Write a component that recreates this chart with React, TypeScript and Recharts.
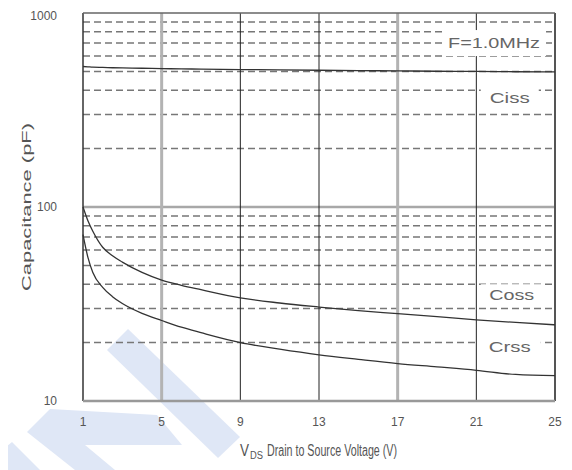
import React from 'react';
import { LineChart, Line, XAxis, YAxis, ReferenceLine, ReferenceDot } from 'recharts';

// V_DS sample points (V)
const vds = [1, 1.25, 1.5, 2, 2.5, 3, 4, 5, 6, 7, 9, 11, 13, 15, 17, 19, 21, 23, 25];
// capacitances (pF)
const ciss = [530, 528, 526, 524, 522, 521, 519, 517, 515, 514, 511, 509, 507, 505, 503, 501, 500, 498, 497];
const coss = [100, 85, 75, 62, 56, 52, 46, 42, 39.5, 37.5, 34, 32, 30.5, 29.2, 28.2, 27.2, 26.2, 25.4, 24.7];
const crss = [72, 55, 46, 38.5, 34.5, 31.8, 28.3, 26, 24, 22.5, 20, 18.5, 17.3, 16.4, 15.6, 15, 14.4, 13.7, 13.5];

const xTicks = [1, 5, 9, 13, 17, 21, 25];
const yTicks = [10, 100, 1000];
const dashedLevels = [20, 30, 40, 50, 60, 70, 80, 90, 200, 300, 400, 500, 600, 700, 800, 900];
const thickVerticals = [5, 17];
const thinVerticals = [9, 13, 21];

const notes = [
  { x: 21.9, y: 700, text: 'F=1.0MHz', len: 92, w: 104, h: 26 },
  { x: 22.7, y: 366, text: 'Ciss', len: 40, w: 58, h: 22 },
  { x: 22.8, y: 35.3, text: 'Coss', len: 45, w: 62, h: 21 },
  { x: 22.7, y: 18.9, text: 'Crss', len: 42, w: 62, h: 22 },
];

const data = vds.map((v, i) => ({ vds: v, ciss: ciss[i], coss: coss[i], crss: crss[i] }));

const font = '"Liberation Sans", Arial, sans-serif';
const textColor = '#555';

const NoteShape = (text: string, len: number, w: number, h: number) => (props: any) => {
  const { cx, cy } = props;
  return (
    <g>
      <rect x={cx - w / 2} y={cy - h / 2} width={w} height={h} fill="#fff" />
      <text
        x={cx - len / 2}
        y={cy}
        dominantBaseline="central"
        fontSize={14}
        textLength={len}
        lengthAdjust="spacingAndGlyphs"
        fill="#666"
        fontFamily={font}
      >
        {text}
      </text>
    </g>
  );
};

const XLabel = (props: any) => {
  const { viewBox } = props;
  const x0 = viewBox.x + viewBox.width / 2 - 79;
  const y = viewBox.y + 55;
  return (
    <g fill={textColor} fontFamily={font}>
      <text x={x0} y={y} fontSize={16} textLength={9} lengthAdjust="spacingAndGlyphs">V</text>
      <text x={x0 + 10} y={y + 3} fontSize={10} textLength={13} lengthAdjust="spacingAndGlyphs">DS</text>
      <text x={x0 + 27} y={y} fontSize={16} textLength={130} lengthAdjust="spacingAndGlyphs">
        Drain to Source Voltage (V)
      </text>
    </g>
  );
};

const YLabel = (props: any) => {
  const { viewBox } = props;
  const cy = viewBox.y + viewBox.height / 2;
  const cx = 18;
  return (
    <text
      x={cx}
      y={cy + 84}
      transform={`rotate(-90, ${cx}, ${cy + 84})`}
      dominantBaseline="central"
      fontSize={13}
      textLength={168}
      lengthAdjust="spacingAndGlyphs"
      fill={textColor}
      fontFamily={font}
    >
      Capacitance (pF)
    </text>
  );
};

const Watermark = () => (
  <svg width={572} height={470} style={{ position: 'absolute', left: -8, top: -8 }}>
    <g fill="#dfe7f6">
      <polygon points="107,350 128,329 240,437 218,458" />
      <polygon points="50,409 157,415 182,445 85,445 115,470 75,470 27,432" />
      <polygon points="0,452 12,442 40,470 0,470" />
    </g>
  </svg>
);

export default function App() {
  return (
    <div style={{ position: 'relative', width: 564, height: 462 }}>
      <Watermark />
      <div style={{ position: 'absolute', left: 0, top: 0 }}>
        <LineChart width={564} height={462} data={data} margin={{ top: 5, right: 17, left: 0, bottom: 19 }}>
          <XAxis
            dataKey="vds"
            type="number"
            domain={[1, 25]}
            ticks={xTicks}
            axisLine={false}
            tickLine={false}
            tickSize={0}
            tickMargin={16}
            height={50}
            tick={{ fontSize: 12, fill: textColor, fontFamily: font }}
            label={<XLabel />}
          />
          <YAxis
            type="number"
            scale="log"
            domain={[10, 1000]}
            ticks={yTicks}
            allowDataOverflow
            axisLine={false}
            tickLine={false}
            tickSize={0}
            tickMargin={26}
            width={75}
            tick={{ fontSize: 12, fill: textColor, fontFamily: font }}
            label={<YLabel />}
          />
          {dashedLevels.map((v) => (
            <ReferenceLine key={'h' + v} y={v} stroke="#777" strokeWidth={1.5} strokeDasharray="7 4" />
          ))}
          <ReferenceLine y={100} stroke="#a8a8a8" strokeWidth={2.5} />
          {thickVerticals.map((v) => (
            <ReferenceLine key={'v' + v} x={v} stroke="#b3b3b3" strokeWidth={3} />
          ))}
          {thinVerticals.map((v) => (
            <ReferenceLine key={'v' + v} x={v} stroke="#222" strokeWidth={1} />
          ))}
          <ReferenceLine x={1} stroke="#333" strokeWidth={1.5} />
          <ReferenceLine x={25} stroke="#555" strokeWidth={2} />
          <ReferenceLine y={10} stroke="#999" strokeWidth={2.5} />
          <ReferenceLine y={1000} stroke="#666" strokeWidth={1.5} />
          {notes.map((n) => (
            <ReferenceDot key={n.text} x={n.x} y={n.y} r={0} shape={NoteShape(n.text, n.len, n.w, n.h)} />
          ))}
          <Line type="monotone" dataKey="ciss" stroke="#333" strokeWidth={1.3} dot={false} isAnimationActive={false} />
          <Line type="monotone" dataKey="coss" stroke="#333" strokeWidth={1.3} dot={false} isAnimationActive={false} />
          <Line type="monotone" dataKey="crss" stroke="#333" strokeWidth={1.3} dot={false} isAnimationActive={false} />
        </LineChart>
      </div>
    </div>
  );
}
